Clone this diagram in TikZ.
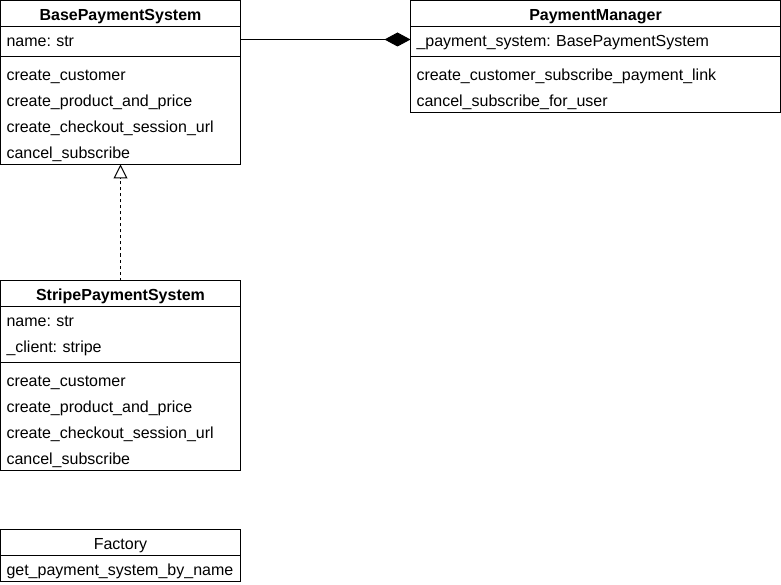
\documentclass[tikz,border=0pt]{standalone}
\usepackage{fontspec}
\setmainfont{Liberation Sans}
\usetikzlibrary{arrows.meta,positioning,calc}
\frenchspacing
\tikzset{
  classtitle/.style={anchor=north west,minimum height=26pt,inner sep=0pt,outer sep=0pt,
    text height=14pt,text depth=0pt,
    text width=#1,align=center,font=\fontsize{16pt}{18pt}\selectfont\bfseries},
  classtitle/.default=240pt,
  plaintitle/.style={classtitle=#1,font=\fontsize{16pt}{18pt}\selectfont},
  plaintitle/.default=240pt,
  member/.style={minimum height=26pt,inner xsep=6pt,inner ysep=0pt,outer sep=0pt,
    text height=14pt,text depth=0pt,
    text width=#1,align=left,font=\fontsize{16pt}{18pt}\selectfont},
  member/.default=228pt,
  umlline/.style={line width=1pt},
  compose/.style={-{Diamond[length=26pt,width=14pt]},line width=1pt},
  realize/.style={-{Triangle[open,length=14pt,width=14pt,fill=white]},
    dash pattern=on 3pt off 3pt,line width=1pt}
}

\begin{document}
\begin{tikzpicture}[x=1pt,y=-1pt]
  \useasboundingbox (0,0) rectangle (781,585);

  % BasePaymentSystem
  \node[classtitle] (base) at (0.5,0.5) {BasePaymentSystem};
  \node[member,below=0pt of base] (base-name) {name: str};
  \node[member,below=8pt of base-name] (base-m1) {create\_customer};
  \node[member,below=0pt of base-m1] (base-m2) {create\_product\_and\_price};
  \node[member,below=0pt of base-m2] (base-m3) {create\_checkout\_session\_url};
  \node[member,below=0pt of base-m3] (base-m4) {cancel\_subscribe};
  \draw[umlline] (base.north west) rectangle (base-m4.south east);
  \draw[umlline] (base.south west) -- (base.south east);
  \draw[umlline] ($(base-name.south west)+(0,4)$) -- ($(base-name.south east)+(0,4)$);

  % PaymentManager
  \node[classtitle=370pt] (pm) at (410.5,0.5) {PaymentManager};
  \node[member=358pt,below=0pt of pm] (pm-attr) {\_payment\_system: BasePaymentSystem};
  \node[member=358pt,below=8pt of pm-attr] (pm-m1) {create\_customer\_subscribe\_payment\_link};
  \node[member=358pt,below=0pt of pm-m1] (pm-m2) {cancel\_subscribe\_for\_user};
  \draw[umlline] (pm.north west) rectangle (pm-m2.south east);
  \draw[umlline] (pm.south west) -- (pm.south east);
  \draw[umlline] ($(pm-attr.south west)+(0,4)$) -- ($(pm-attr.south east)+(0,4)$);

  % StripePaymentSystem
  \node[classtitle] (stripe) at (0.5,280.5) {StripePaymentSystem};
  \node[member,below=0pt of stripe] (stripe-name) {name: str};
  \node[member,below=0pt of stripe-name] (stripe-client) {\_client: stripe};
  \node[member,below=8pt of stripe-client] (stripe-m1) {create\_customer};
  \node[member,below=0pt of stripe-m1] (stripe-m2) {create\_product\_and\_price};
  \node[member,below=0pt of stripe-m2] (stripe-m3) {create\_checkout\_session\_url};
  \node[member,below=0pt of stripe-m3] (stripe-m4) {cancel\_subscribe};
  \draw[umlline] (stripe.north west) rectangle (stripe-m4.south east);
  \draw[umlline] (stripe.south west) -- (stripe.south east);
  \draw[umlline] ($(stripe-client.south west)+(0,4)$) -- ($(stripe-client.south east)+(0,4)$);

  % Factory
  \node[plaintitle] (factory) at (0.5,529.5) {Factory};
  \node[member,below=0pt of factory] (factory-m1) {get\_payment\_system\_by\_name};
  \draw[umlline] (factory.north west) rectangle (factory-m1.south east);
  \draw[umlline] (factory.south west) -- (factory.south east);

  % relations
  \draw[compose] (base-name.east) -- (pm-attr.west);
  \draw[realize] (stripe.north) -- (base-m4.south);
\end{tikzpicture}
\end{document}
